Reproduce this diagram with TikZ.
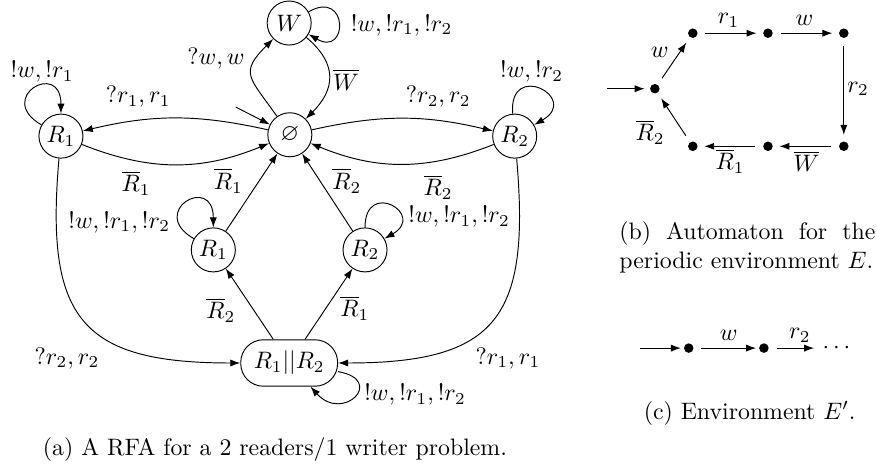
\documentclass[tikz,border=0pt]{standalone}
\usepackage{amsmath, amssymb}
\usepackage{tikz}
\usetikzlibrary{arrows.meta}
\tikzset{
  rfastate/.style  = {draw, circle, minimum size=18.5pt, inner sep=0pt},
  pairstate/.style = {draw, rounded corners=9.5pt, minimum width=40.7pt, minimum height=19.5pt, inner sep=0pt},
  evdot/.style     = {circle, fill, minimum size=4pt, inner sep=0pt, outer sep=1.3pt},
  fwd/.style       = {-{Latex[length=4.2pt, width=3pt]}},
  bstep/.style     = {fwd, shorten <=2pt, shorten >=1.5pt},
  cstep/.style     = {fwd, shorten <=2pt}
}

\begin{document}
\begin{tikzpicture}[x=1cm, y=1cm]
    \useasboundingbox (0,0) rectangle (12.95,-6.95);

    % ── (a) RFA: states ──────────────────────────────────────────────────
    \node[rfastate]  (W)   at (4.27,-0.34) {$W$};
    \node[rfastate]  (E)   at (4.28,-1.99) {$\varnothing$};
    \node[rfastate]  (R1o) at (0.90,-2.01) {$R_1$};
    \node[rfastate]  (R2o) at (7.60,-2.01) {$R_2$};
    \node[rfastate]  (R1i) at (3.15,-3.69) {$R_1$};
    \node[rfastate]  (R2i) at (5.39,-3.69) {$R_2$};
    \node[pairstate] (RR)  at (4.27,-5.36) {$R_1||R_2$};
    \coordinate (initA) at (3.48,-1.58);

    % initial state and the writer
    \draw[fwd] (initA) -- (E);
    \draw[fwd] (E) to[out=125, in=225, looseness=1.6] (W);
    \draw[fwd] (W) to[out=-40, in=45, looseness=1.3] (E);
    \draw[fwd] (W) to[out=30, in=-30, distance=0.68cm] (W);

    % outer readers
    \draw[fwd] (E)   to[bend right=13] (R1o);
    \draw[fwd] (R1o) to[bend right=22] (E);
    \draw[fwd] (E)   to[bend left=13]  (R2o);
    \draw[fwd] (R2o) to[bend left=22]  (E);
    \draw[fwd] (R1o) to[out=150, in=90, distance=0.8cm] (R1o);
    \draw[fwd] (R2o) to[out=95, in=30, distance=0.8cm] (R2o);

    % inner readers
    \draw[fwd] (R1i) -- (E);
    \draw[fwd] (R2i) -- (E);
    \draw[fwd] (R1i) to[out=150, in=90, distance=0.8cm] (R1i);
    \draw[fwd] (R2i) to[out=90, in=30, distance=0.72cm] (R2i);

    % both readers
    \draw[fwd] (RR) -- (R1i);
    \draw[fwd] (RR) -- (R2i);
    \draw[fwd] (R1o) to[out=-95, in=180, looseness=1.5] (RR);
    \draw[fwd] (R2o) to[out=-85, in=0, looseness=1.5]   (RR);
    \draw[fwd] (RR) to[out=-10, in=-48, distance=0.72cm] (RR);

    % labels
    \node (lEW)   at (3.19,-0.86) {$?w, w$};
    \node (lWE)   at (5.11,-1.18) {$\overline{W}$};
    \node (lWW)   at (5.93,-0.37) {$!w, !r_1, !r_2$};
    \node (lR1o)  at (0.62,-1.06) {$!w, !r_1$};
    \node (lER1)  at (2.04,-1.43) {$?r_1, r_1$};
    \node (lER2)  at (6.47,-1.43) {$?r_2, r_2$};
    \node (lR2o)  at (7.85,-1.06) {$!w, !r_2$};
    \node (lR1E)  at (2.01,-2.70) {$\overline{R}_1$};
    \node (lR1iE) at (3.37,-2.67) {$\overline{R}_1$};
    \node (lR2iE) at (5.12,-2.67) {$\overline{R}_2$};
    \node (lR2E)  at (6.47,-2.76) {$\overline{R}_2$};
    \node (lR1i)  at (1.76,-3.28) {$!w, !r_1, !r_2$};
    \node (lR2i)  at (6.78,-3.20) {$!w, !r_1, !r_2$};
    \node (lRR1)  at (3.26,-4.58) {$\overline{R}_2$};
    \node (lRR2)  at (5.24,-4.55) {$\overline{R}_1$};
    \node (lR1RR) at (0.99,-5.29) {$?r_2, r_2$};
    \node (lR2RR) at (7.50,-5.29) {$?r_1, r_1$};
    \node (lRR)   at (6.13,-5.83) {$!w, !r_1, !r_2$};

    \node (capA) at (4.06,-6.64) {(a) A RFA for a 2 readers/1 writer problem.};

    % ── (b) periodic environment ─────────────────────────────────────────
    \node[evdot] (b0) at (9.67,-1.31) {};
    \node[evdot] (b1) at (10.23,-0.49) {};
    \node[evdot] (b2) at (11.34,-0.49) {};
    \node[evdot] (b3) at (12.46,-0.49) {};
    \node[evdot] (b4) at (12.46,-2.16) {};
    \node[evdot] (b5) at (11.34,-2.16) {};
    \node[evdot] (b6) at (10.23,-2.16) {};
    \coordinate (initB) at (8.96,-1.31);

    \draw[fwd, shorten >=1pt] (initB) -- (b0);
    \draw[bstep] (b0) -- (b1);
    \draw[bstep] (b1) -- (b2);
    \draw[bstep] (b2) -- (b3);
    \draw[bstep] (b3) -- (b4);
    \draw[bstep] (b4) -- (b5);
    \draw[bstep] (b5) -- (b6);
    \draw[bstep] (b6) -- (b0);

    \node (lb01) at (9.74,-0.77)  {$w$};
    \node (lb12) at (10.76,-0.30) {$r_1$};
    \node (lb23) at (11.88,-0.30) {$w$};
    \node (lb34) at (12.67,-1.31) {$r_2$};
    \node (lb45) at (11.91,-2.38) {$\overline{W}$};
    \node (lb56) at (10.78,-2.38) {$\overline{R}_1$};
    \node (lb60) at (9.60,-1.95)  {$\overline{R}_2$};

    \node[anchor=west, inner sep=0pt, text width=107.5pt, align=justify] (capB) at (9.14,-3.65)
      {(b) Automaton for the periodic environment $E$.};

    % ── (c) environment E' ───────────────────────────────────────────────
    \node[evdot] (c1) at (10.17,-5.14) {};
    \node[evdot] (c2) at (11.28,-5.14) {};
    \node (cdots) at (12.38,-5.14) {$\cdots$};
    \coordinate (initC) at (9.45,-5.14);

    \draw[fwd]   (initC) -- (c1);
    \draw[cstep] (c1) -- (c2);
    \draw[cstep] (c2) -- (cdots);

    \node (lc12) at (10.76,-4.95) {$w$};
    \node (lc23) at (11.81,-4.95) {$r_2$};

    \node (capC) at (11.07,-6.10) {(c) Environment $E'$.};

\end{tikzpicture}
\end{document}
